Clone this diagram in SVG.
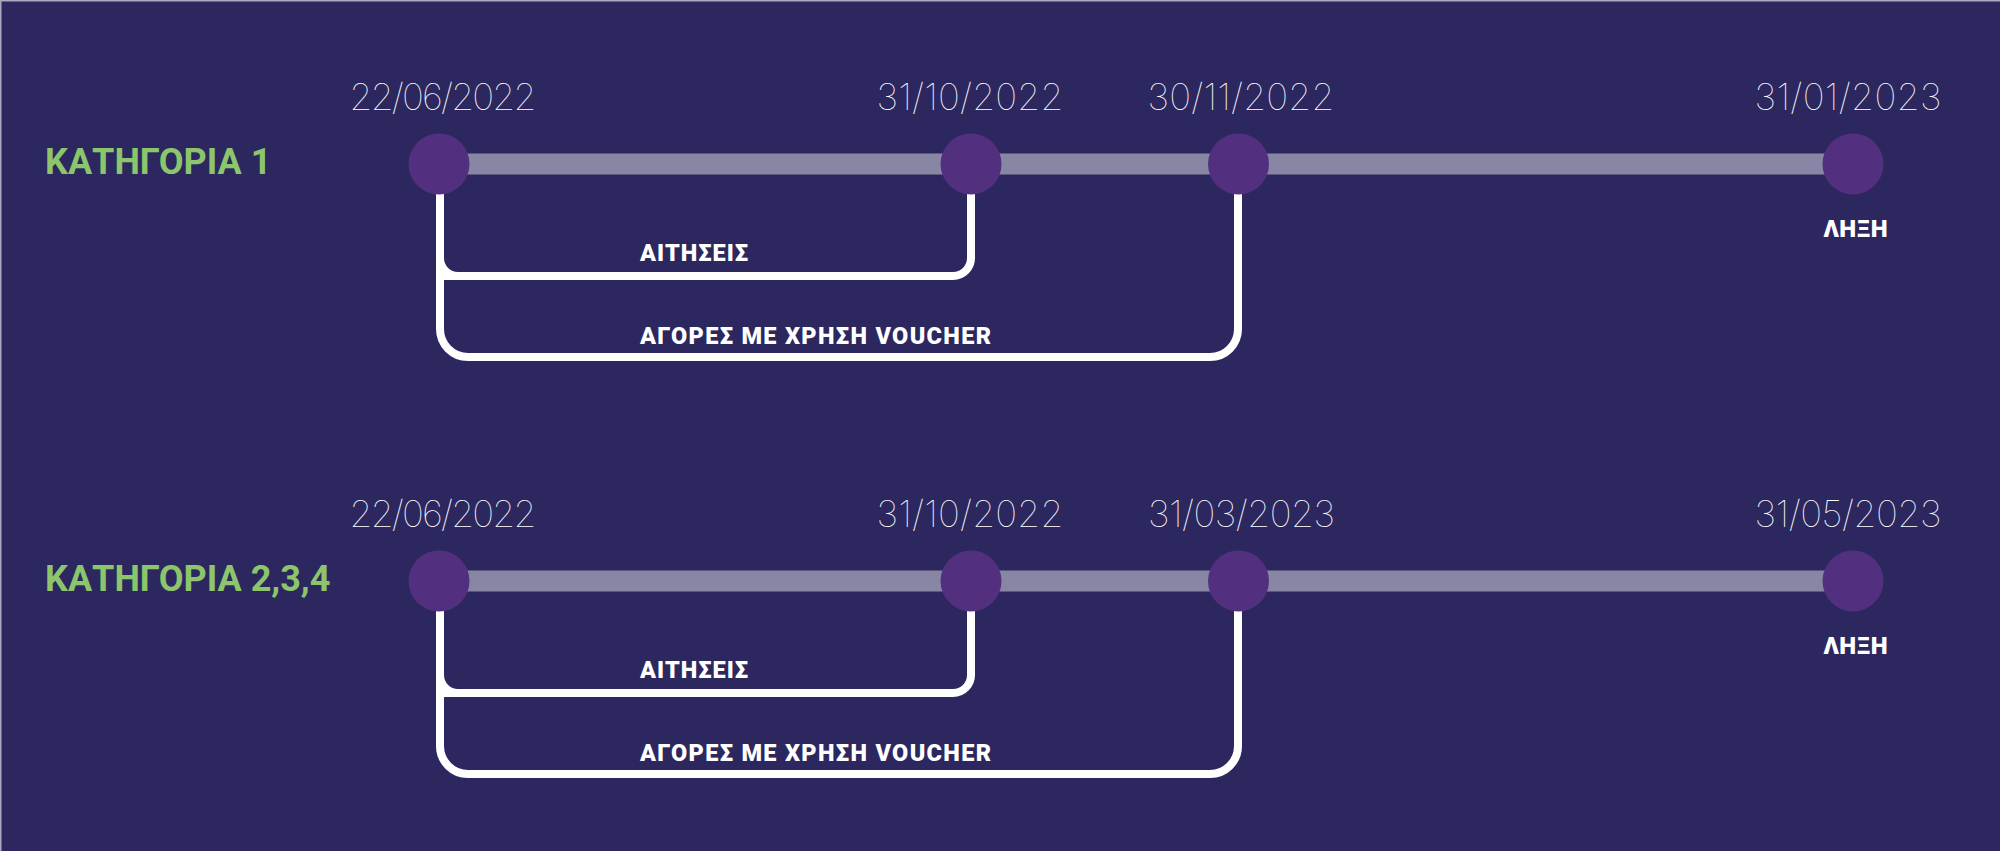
<svg xmlns="http://www.w3.org/2000/svg" width="2000" height="851" viewBox="0 0 2000 851">
<style>
.bg{fill:#2C285F}
.edge{fill:none;stroke:#A9A8BC;stroke-width:1.5}
.bar{stroke:#8886A4;stroke-width:21}
.dot{fill:#52307F}
.date{font-family:Inter,"Liberation Sans",sans-serif;font-weight:100;font-size:37px;fill:#ffffff;text-anchor:middle}
.cat{font-family:Roboto,"Liberation Sans",sans-serif;font-weight:700;font-size:36px;fill:#8DC56C}
.lbl{font-family:Roboto,"Liberation Sans",sans-serif;font-weight:900;font-size:23.5px;fill:#ffffff}
.end{font-family:Roboto,"Liberation Sans",sans-serif;font-weight:900;font-size:24px;fill:#ffffff;text-anchor:middle}
.conn{fill:none;stroke:#ffffff;stroke-width:8}
.fillet{fill:#ffffff}
</style>
<rect class="bg" x="0" y="0" width="2000" height="851"/>
<path class="edge" d="M0.75 851 V0.75 H2000"/>

<!-- Row 1 -->
<g id="row1">
  <text id="cat1" class="cat" x="45" y="174">ΚΑΤΗΓΟΡΙΑ 1</text>
  <line class="bar" x1="439" y1="164" x2="1853" y2="164"/>
  <g id="r1-connectors">
    <path class="conn" d="M440 190 V329 A28 28 0 0 0 468 357 H1210 A28 28 0 0 0 1238 329 V190"/>
    <path class="conn" d="M440 276 H953 A18 18 0 0 0 971 258 V190"/>
    <path class="fillet" d="M444 258 A14 14 0 0 0 458 272 L444 272 Z"/>
  </g>
  <g id="r1-n1"><circle class="dot" cx="439" cy="164" r="30.5"/><text class="date" x="443" y="110" textLength="187">22/06/2022</text></g>
  <g id="r1-n2"><circle class="dot" cx="971" cy="164" r="30.5"/><text class="date" x="970" y="110" textLength="187">31/10/2022</text></g>
  <g id="r1-n3"><circle class="dot" cx="1238.5" cy="164" r="30.5"/><text class="date" x="1241" y="110" textLength="187">30/11/2022</text></g>
  <g id="r1-n4"><circle class="dot" cx="1853" cy="164" r="30.5"/><text class="date" x="1848" y="110" textLength="187">31/01/2023</text><text class="end" x="1855.5" y="237" textLength="64">ΛΗΞΗ</text></g>
  <text id="r1-l1" class="lbl" x="640" y="261" textLength="108">ΑΙΤΗΣΕΙΣ</text>
  <text id="r1-l2" class="lbl" x="640" y="344" textLength="351">ΑΓΟΡΕΣ ΜΕ ΧΡΗΣΗ VOUCHER</text>
</g>

<!-- Row 2 -->
<g id="row2">
  <text id="cat2" class="cat" x="45" y="591">ΚΑΤΗΓΟΡΙΑ 2,3,4</text>
  <line class="bar" x1="439" y1="581" x2="1853" y2="581"/>
  <g id="r2-connectors">
    <path class="conn" d="M440 607 V746 A28 28 0 0 0 468 774 H1210 A28 28 0 0 0 1238 746 V607"/>
    <path class="conn" d="M440 693 H953 A18 18 0 0 0 971 675 V607"/>
    <path class="fillet" d="M444 675 A14 14 0 0 0 458 689 L444 689 Z"/>
  </g>
  <g id="r2-n1"><circle class="dot" cx="439" cy="581" r="30.5"/><text class="date" x="443" y="527" textLength="187">22/06/2022</text></g>
  <g id="r2-n2"><circle class="dot" cx="971" cy="581" r="30.5"/><text class="date" x="970" y="527" textLength="187">31/10/2022</text></g>
  <g id="r2-n3"><circle class="dot" cx="1238.5" cy="581" r="30.5"/><text class="date" x="1241.5" y="527" textLength="187">31/03/2023</text></g>
  <g id="r2-n4"><circle class="dot" cx="1853" cy="581" r="30.5"/><text class="date" x="1848" y="527" textLength="187">31/05/2023</text><text class="end" x="1855.5" y="654" textLength="64">ΛΗΞΗ</text></g>
  <text id="r2-l1" class="lbl" x="640" y="678" textLength="108">ΑΙΤΗΣΕΙΣ</text>
  <text id="r2-l2" class="lbl" x="640" y="761" textLength="351">ΑΓΟΡΕΣ ΜΕ ΧΡΗΣΗ VOUCHER</text>
</g>
</svg>
